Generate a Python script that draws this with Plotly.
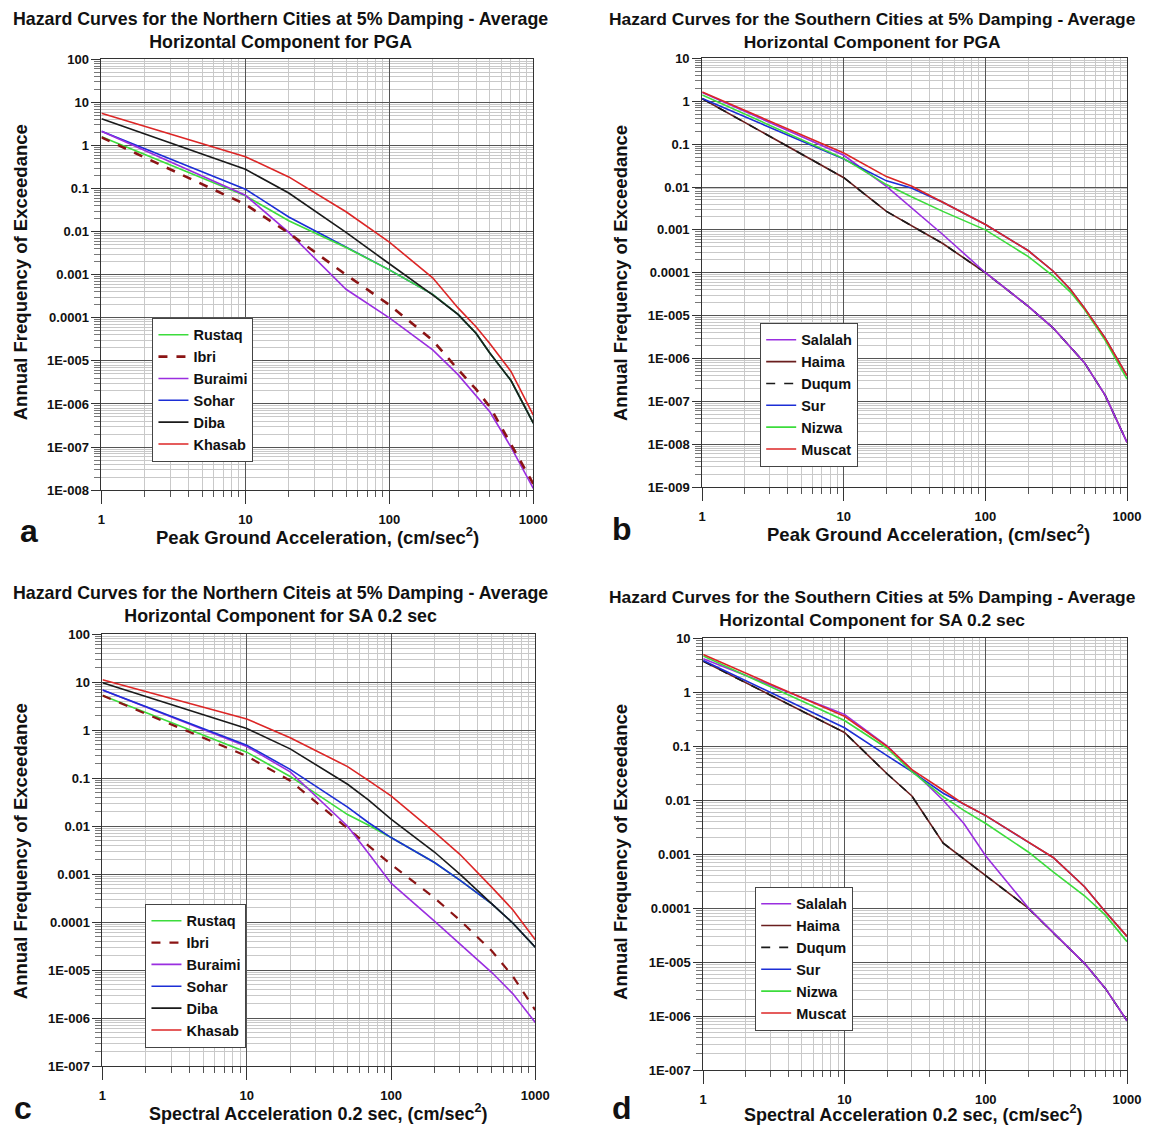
import plotly.graph_objects as go

# reference canvas size; empirical page->photo mapping correction
W, H = 1151, 1127
PAD = 8
S = 0.985
CX, CY = 3.6, 6.8
FW = 1166
FH = 1122

# ---------------- DATA ----------------
# Panel a: Northern cities, PGA
XA = [1, 10, 20, 50, 100, 200, 300, 400, 500, 700, 1000]
A_RUSTAQ = [1.6, 0.068, 0.018, 0.0043, 0.0013, 0.00035, 0.00012, 4.4e-5, 1.5e-5, 3.5e-6, 3.6e-7]
A_IBRI = [1.55, 0.043, 0.0093, 0.001, 0.0002, 3e-5, 6.3e-6, 2.2e-6, 8.5e-7, 1.15e-7, 1.4e-8]
A_BURAIMI = [2.15, 0.07, 0.0096, 0.00046, 0.0001, 1.8e-5, 4.8e-6, 1.6e-6, 6.5e-7, 1e-7, 1.1e-8]
A_SOHAR = [2.15, 0.097, 0.022, 0.0043, 0.0013, 0.00035, 0.00012, 4.4e-5, 1.5e-5, 3.5e-6, 3.6e-7]
A_DIBA = [4.2, 0.28, 0.079, 0.0096, 0.0018, 0.00034, 0.00012, 4.4e-5, 1.5e-5, 3.5e-6, 3.6e-7]
A_KHASAB = [5.6, 0.55, 0.187, 0.029, 0.0057, 0.00085, 0.00017, 6.2e-5, 2.5e-5, 5.7e-6, 5.5e-7]

# Panel b: Southern cities, PGA
XB = [1, 10, 20, 30, 50, 100, 200, 300, 400, 500, 700, 1000]
B_SALALAH = [1.6, 0.055, 0.0104, 0.0033, 0.00078, 0.0001, 1.66e-5, 5.2e-6, 1.8e-6, 8e-7, 1.4e-7, 1.1e-8]
B_HAIMA = [1.15, 0.0165, 0.0027, 0.00126, 0.00048, 0.0001, 1.66e-5, 5.2e-6, 1.8e-6, 8e-7, 1.4e-7, 1.1e-8]
B_DUQUM = [1.15, 0.0165, 0.0027, 0.00126, 0.00048, 0.0001, 1.66e-5, 5.2e-6, 1.8e-6, 8e-7, 1.4e-7, 1.1e-8]
B_SUR = [1.16, 0.045, 0.0139, 0.0095, 0.0044, 0.00133, 0.00033, 0.00011, 4e-5, 1.5e-5, 3e-6, 4e-7]
B_NIZWA = [1.41, 0.046, 0.0114, 0.0059, 0.0027, 0.001, 0.00024, 8.5e-5, 3.5e-5, 1.4e-5, 2.7e-6, 3.3e-7]
B_MUSCAT = [1.64, 0.062, 0.0175, 0.0105, 0.0044, 0.00133, 0.00033, 0.00011, 4e-5, 1.5e-5, 3e-6, 4e-7]

# Panel c: Northern cities, SA 0.2 sec
XC = [1, 10, 20, 50, 70, 100, 200, 300, 500, 700, 1000]
C_RUSTAQ = [5.3, 0.35, 0.109, 0.0175, 0.0105, 0.0058, 0.00175, 0.00075, 0.00024, 9.5e-5, 3e-5]
C_IBRI = [5.3, 0.29, 0.089, 0.0089, 0.0039, 0.0016, 0.00032, 0.00011, 2.5e-5, 7.4e-6, 1.47e-6]
C_BURAIMI = [6.9, 0.46, 0.136, 0.01, 0.0027, 0.00065, 0.000105, 3.5e-5, 8.9e-6, 3.2e-6, 8.1e-7]
C_SOHAR = [6.9, 0.49, 0.153, 0.025, 0.0118, 0.0058, 0.00175, 0.00075, 0.00024, 9.5e-5, 3e-5]
C_DIBA = [9.8, 1.09, 0.41, 0.075, 0.035, 0.014, 0.0029, 0.001, 0.00024, 9.5e-5, 3e-5]
C_KHASAB = [11.3, 1.72, 0.7, 0.175, 0.089, 0.043, 0.0075, 0.0026, 0.00053, 0.00018, 4.3e-5]

# Panel d: Southern cities, SA 0.2 sec
XD = [1, 10, 20, 30, 50, 70, 100, 200, 300, 500, 700, 1000]
D_SALALAH = [4.2, 0.39, 0.102, 0.037, 0.01, 0.0037, 0.00093, 0.000102, 3.5e-5, 9.5e-6, 3.3e-6, 8.2e-7]
D_HAIMA = [3.76, 0.18, 0.031, 0.012, 0.0016, 0.00082, 0.0004, 0.0001, 3.5e-5, 9.5e-6, 3.3e-6, 8.2e-7]
D_DUQUM = [3.76, 0.18, 0.031, 0.012, 0.0016, 0.00082, 0.0004, 0.0001, 3.5e-5, 9.5e-6, 3.3e-6, 8.2e-7]
D_SUR = [3.9, 0.22, 0.067, 0.034, 0.0135, 0.0085, 0.0052, 0.00167, 0.00087, 0.00025, 8.7e-5, 3e-5]
D_NIZWA = [4.7, 0.30, 0.092, 0.034, 0.0116, 0.0065, 0.0037, 0.0011, 0.00047, 0.00017, 7.5e-5, 2.4e-5]
D_MUSCAT = [5.0, 0.36, 0.1, 0.037, 0.0153, 0.0085, 0.0052, 0.00167, 0.00087, 0.00025, 8.7e-5, 3e-5]

X_TICKS = [1, 10, 100, 1000]
X_TICKTEXT = ["1", "10", "100", "1000"]
Y_TICKTEXT = {2: "100", 1: "10", 0: "1", -1: "0.1", -2: "0.01", -3: "0.001", -4: "0.0001",
              -5: "1E-005", -6: "1E-006", -7: "1E-007", -8: "1E-008", -9: "1E-009"}

TITLE_A = "Hazard Curves for the Northern Cities at 5% Damping - Average<br>Horizontal Component for PGA"
TITLE_B = "Hazard Curves for the Southern Cities at 5% Damping - Average<br>Horizontal Component for PGA"
TITLE_C = "Hazard Curves for the Northern Citeis at 5% Damping - Average<br>Horizontal Component for SA 0.2 sec"
TITLE_D = "Hazard Curves for the Southern Cities at 5% Damping - Average<br>Horizontal Component for SA 0.2 sec"
XTITLE_PGA = "Peak Ground Acceleration, (cm/sec<sup>2</sup>)"
XTITLE_SA = "Spectral Acceleration 0.2 sec, (cm/sec<sup>2</sup>)"
YTITLE = "Annual Frequency of Exceedance"

# ---------------- STYLE ----------------
FONT = "Arial, Liberation Sans, sans-serif"
GREEN = "#3CDC3C"
PURPLE = "#9A2EE0"
BLUE = "#1C2ED6"
BLACK = "#1a1a1a"
RED = "#DC2626"
DKRED = "#8B1414"
BROWN = "#6A1E1E"

fig = go.Figure()


def fx(p):
    return (p - CX) / S - PAD


def fy(p):
    return (p - CY) / S - PAD


def px_x(p):
    return fx(p) / FW


def px_y(p):
    return 1 - fy(p) / FH


panels = {
    "a": ((101, 533), (59, 489), (-8, 2)),
    "b": ((702, 1127), (58, 486), (-9, 1)),
    "c": ((102, 535), (633, 1064), (-7, 2)),
    "d": ((703, 1127), (637, 1068), (-7, 1)),
}
axis_ids = {"a": "", "b": "2", "c": "3", "d": "4"}
legend_ids = {"a": "legend", "b": "legend2", "c": "legend3", "d": "legend4"}


def add(panel, x, y, name, color, rank, dash="solid", width=1.6):
    k = axis_ids[panel]
    fig.add_trace(go.Scatter(
        x=x, y=y, name=name, mode="lines",
        line=dict(color=color, width=width, dash=dash),
        xaxis="x" + k, yaxis="y" + k, legend=legend_ids[panel],
        legendrank=rank,
    ))


add("a", XA, A_SOHAR, "Sohar", BLUE, 4)
add("a", XA, A_RUSTAQ, "Rustaq", GREEN, 1)
add("a", XA, A_BURAIMI, "Buraimi", PURPLE, 3)
add("a", XA, A_IBRI, "Ibri", DKRED, 2, dash="dash", width=2.6)
add("a", XA, A_DIBA, "Diba", BLACK, 5)
add("a", XA, A_KHASAB, "Khasab", RED, 6)

add("b", XB, B_HAIMA, "Haima", BROWN, 2)
add("b", XB, B_DUQUM, "Duqum", BLACK, 3, dash="dash", width=1.6)
add("b", XB, B_SALALAH, "Salalah", PURPLE, 1)
add("b", XB, B_SUR, "Sur", BLUE, 4)
add("b", XB, B_NIZWA, "Nizwa", GREEN, 5)
add("b", XB, B_MUSCAT, "Muscat", RED, 6)

add("c", XC, C_RUSTAQ, "Rustaq", GREEN, 1)
add("c", XC, C_IBRI, "Ibri", DKRED, 2, dash="dash", width=2.2)
add("c", XC, C_BURAIMI, "Buraimi", PURPLE, 3)
add("c", XC, C_SOHAR, "Sohar", BLUE, 4)
add("c", XC, C_DIBA, "Diba", BLACK, 5)
add("c", XC, C_KHASAB, "Khasab", RED, 6)

add("d", XD, D_HAIMA, "Haima", BROWN, 2)
add("d", XD, D_DUQUM, "Duqum", BLACK, 3, dash="dash", width=1.6)
add("d", XD, D_SALALAH, "Salalah", PURPLE, 1)
add("d", XD, D_SUR, "Sur", BLUE, 4)
add("d", XD, D_NIZWA, "Nizwa", GREEN, 5)
add("d", XD, D_MUSCAT, "Muscat", RED, 6)

tickfont = dict(family=FONT, size=13, color="#111", weight="bold")

layout = dict(
    width=FW, height=FH, margin=dict(l=0, r=0, t=0, b=0),
    paper_bgcolor="white", plot_bgcolor="white",
    showlegend=True, font=dict(family=FONT, color="#111"),
)

legend_pos = {"a": (152, 317), "b": (760, 322), "c": (145, 902), "d": (755, 885)}

for p, ((x0, x1), (yt, yb), (ylo, yhi)) in panels.items():
    k = axis_ids[p]
    minor_x = [m * 10 ** e for e in range(0, 3) for m in range(2, 10)]
    minor_y = [m * 10 ** e for e in range(ylo, yhi) for m in range(2, 10)]
    layout["xaxis" + k] = dict(
        type="log", range=[0, 3], domain=[px_x(x0), px_x(x1)],
        anchor="y" + k, tickmode="array", tickvals=X_TICKS, ticktext=X_TICKTEXT,
        tickfont=tickfont, ticks="outside", ticklen=13, tickcolor="#333", tickwidth=1,
        showgrid=True, gridcolor="#555", gridwidth=1,
        showline=True, linecolor="#333", linewidth=1, mirror=True,
        zeroline=False, ticklabelstandoff=4,
        minor=dict(tickmode="array", tickvals=minor_x, showgrid=True,
                   gridcolor="#c9c9c9", gridwidth=1, ticks="outside",
                   ticklen=6, tickcolor="#555"),
    )
    yvals = [10 ** e for e in range(ylo, yhi + 1)]
    layout["yaxis" + k] = dict(
        type="log", range=[ylo, yhi], domain=[px_y(yb), px_y(yt)],
        anchor="x" + k, tickmode="array", tickvals=yvals,
        ticktext=[Y_TICKTEXT[e] for e in range(ylo, yhi + 1)],
        tickfont=tickfont, ticks="outside", ticklen=9, tickcolor="#333",
        showgrid=True, gridcolor="#555", gridwidth=1,
        showline=True, linecolor="#333", linewidth=1, mirror=True,
        zeroline=False,
        minor=dict(tickmode="array", tickvals=minor_y, showgrid=True,
                   gridcolor="#c9c9c9", gridwidth=1, ticks="outside",
                   ticklen=6, tickcolor="#777"),
    )
    lx, ly = legend_pos[p]
    layout[legend_ids[p]] = dict(
        x=px_x(lx), y=px_y(ly), xanchor="left", yanchor="top",
        bgcolor="white", bordercolor="#444", borderwidth=1,
        font=dict(family=FONT, size=14.5, color="#111", weight="bold"),
        tracegroupgap=0, itemwidth=30,
    )

fig.update_layout(**layout)

annotations = []


def ann(text, x, y, size, angle=0):
    annotations.append(dict(
        text=text, x=px_x(x), y=px_y(y), xref="paper", yref="paper",
        showarrow=False, textangle=angle, xanchor="center", yanchor="middle",
        font=dict(family=FONT, size=size, color="#111", weight="bold"),
    ))


ann(TITLE_A, 280, 30, 17.8)
ann(TITLE_B, 872, 30, 17.4)
ann(TITLE_C, 280, 603, 17.8)
ann(TITLE_D, 872, 607, 17.4)
ann(XTITLE_PGA, 317, 535, 18.5)
ann(XTITLE_PGA, 928, 532, 18.5)
ann(XTITLE_SA, 318, 1110, 18)
ann(XTITLE_SA, 913, 1111, 18)
ann(YTITLE, 20, 272, 18.5, -90)
ann(YTITLE, 620, 272, 18.5, -90)
ann(YTITLE, 20, 850, 18.5, -90)
ann(YTITLE, 620, 850, 18.5, -90)
ann("a", 28, 530, 32)
ann("b", 622, 528, 32)
ann("c", 22, 1106, 32)
ann("d", 622, 1106, 32)

fig.update_layout(annotations=annotations)

fig.write_html("out.html")
